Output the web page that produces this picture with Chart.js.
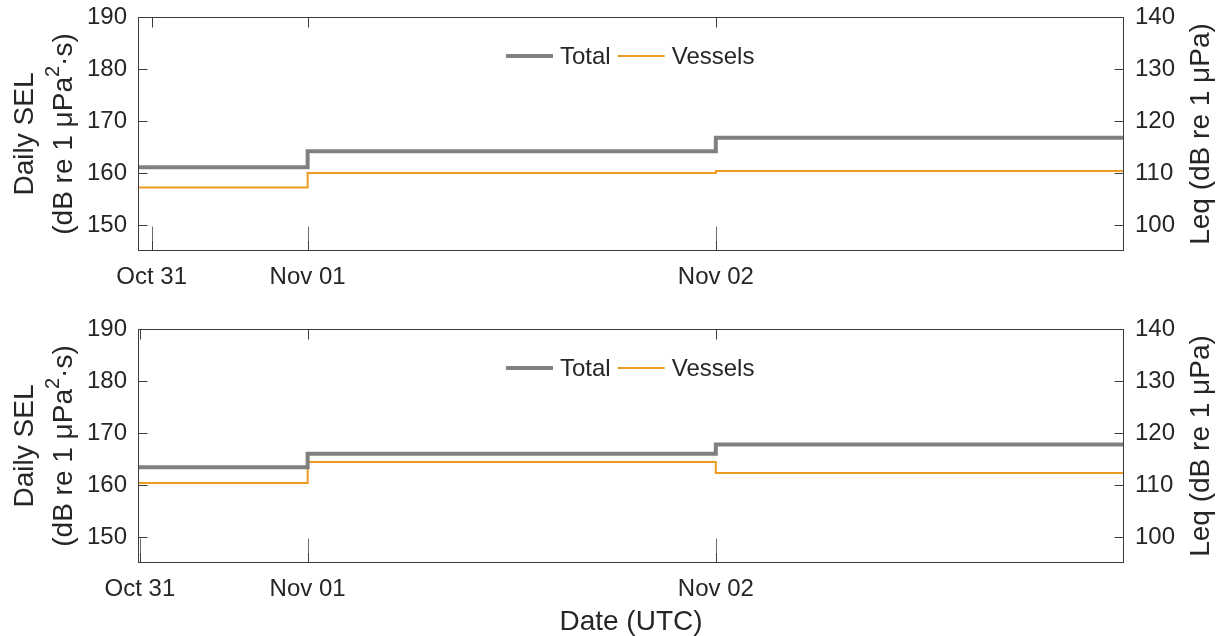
<!DOCTYPE html>
<html>
<head>
<meta charset="utf-8">
<script src="https://cdn.jsdelivr.net/npm/chart.js@4/dist/chart.umd.min.js"></script>
<style>
  html, body { margin: 0; padding: 0; background: #ffffff; }
  #wrap { position: relative; width: 1219px; height: 636px; overflow: hidden; }
  #wrap canvas { position: absolute; left: 0; }
</style>
</head>
<body>
<div id="wrap">
  <canvas id="panelTop" width="1219" height="300" style="top:0px"></canvas>
  <canvas id="panelBottom" width="1219" height="336" style="top:300px"></canvas>
</div>
<script>
// Daily sound exposure levels, one value per UTC day (days counted from Oct 31 00:00 UTC)
const dayLabels = ['Oct 31', 'Nov 01', 'Nov 02'];
const segmentStart = [0.5844, 1, 2];
const segmentEnd = 3;
const tickDaysTop = [0.618, 1, 2];
const tickDaysBottom = [0.589, 1, 2];

const totalTop = [161.1, 164.2, 166.8];
const vesselsTop = [157.2, 160.0, 160.4];
const totalBottom = [163.4, 166.0, 167.8];
const vesselsBottom = [160.4, 164.4, 162.3];

const selTicks = [150, 160, 170, 180, 190];
const leqTicks = [100, 110, 120, 130, 140];
const selRange = [145, 190];
const leqRange = [95, 140];

const FONT = "'Liberation Sans', Arial, Helvetica, sans-serif";
const TEXT = '#262626';
const AXIS = '#3c3c3c';
const GRAY = '#808080';
const ORANGE = '#EE9B22';

function toSteps(values) {
  const pts = values.map((v, i) => ({ x: segmentStart[i], y: v }));
  pts.push({ x: segmentEnd, y: values[values.length - 1] });
  return pts;
}

// Axis boxes are sized by hand, so label overhang must not push the plot area
function noOverhang(s) {
  s.paddingTop = 0; s.paddingBottom = 0; s.paddingLeft = 0; s.paddingRight = 0;
}

// Draws the axes box, inward tick marks, rotated axis titles and the legend
const framePlugin = {
  id: 'frame',
  afterDraw(chart, args, opts) {
    const ctx = chart.ctx;
    const { left, right, top, bottom } = chart.chartArea;
    const sx = chart.scales.x, sy = chart.scales.y, sy2 = chart.scales.y2;
    const L = Math.round(left) + 0.5, R = Math.round(right) - 0.5;
    const T = Math.round(top) + 0.5, B = Math.round(bottom) - 0.5;
    ctx.save();
    ctx.strokeStyle = AXIS;
    ctx.lineWidth = 1;
    ctx.strokeRect(L, T, R - L, B - T);

    ctx.beginPath();
    selTicks.forEach(v => {
      const y = Math.round(sy.getPixelForValue(v)) + 0.5;
      ctx.moveTo(L, y); ctx.lineTo(L + 9, y);
    });
    leqTicks.forEach(v => {
      const y = Math.round(sy2.getPixelForValue(v)) + 0.5;
      ctx.moveTo(R, y); ctx.lineTo(R - 9, y);
    });
    opts.tickDays.forEach(d => {
      const x = Math.round(sx.getPixelForValue(d)) + 0.5;
      ctx.moveTo(x, T); ctx.lineTo(x, T + 10);
      ctx.moveTo(x, B - 10); ctx.lineTo(x, B);
    });
    ctx.stroke();
    ctx.strokeStyle = '#6a6a6a';
    ctx.beginPath();
    opts.tickDays.forEach(d => {
      const x = Math.round(sx.getPixelForValue(d)) + 0.5;
      ctx.moveTo(x, B - 24); ctx.lineTo(x, B - 10);
    });
    ctx.stroke();

    // left axis title (two lines, with superscript)
    const cy = (top + bottom) / 2;
    ctx.fillStyle = TEXT;
    ctx.textBaseline = 'alphabetic';
    ctx.save();
    ctx.translate(33, cy);
    ctx.rotate(-Math.PI / 2);
    ctx.font = '28px ' + FONT;
    ctx.textAlign = 'center';
    ctx.fillText('Daily SEL', 0, 0);
    ctx.restore();

    ctx.save();
    ctx.translate(72, cy);
    ctx.rotate(-Math.PI / 2);
    const parts = [
      { t: '(dB re 1 \u03bcPa', f: '28px ' + FONT, dy: 0 },
      { t: '2', f: '20px ' + FONT, dy: -13 },
      { t: '\u00b7s)', f: '28px ' + FONT, dy: 0 }
    ];
    let total = 0;
    parts.forEach(p => { ctx.font = p.f; p.w = ctx.measureText(p.t).width; total += p.w; });
    let px = -total / 2;
    ctx.textAlign = 'left';
    parts.forEach(p => { ctx.font = p.f; ctx.fillText(p.t, px, p.dy); px += p.w; });
    ctx.restore();

    // right axis title
    ctx.save();
    ctx.translate(1209, cy);
    ctx.rotate(-Math.PI / 2);
    ctx.font = '28px ' + FONT;
    ctx.textAlign = 'center';
    ctx.fillText('Leq (dB re 1 \u03bcPa)', 0, 0);
    ctx.restore();

    // x axis title
    if (opts.xTitle) {
      ctx.font = '28px ' + FONT;
      ctx.textAlign = 'center';
      ctx.fillText(opts.xTitle, (left + right) / 2, opts.xTitleY);
    }

    // legend
    const ly = top + 39;
    let lx = 506;
    ctx.font = '24px ' + FONT;
    ctx.textAlign = 'left';
    ctx.textBaseline = 'middle';
    chart.data.datasets.forEach(ds => {
      ctx.strokeStyle = ds.borderColor;
      ctx.lineWidth = ds.borderWidth;
      ctx.beginPath();
      ctx.moveTo(lx, ly); ctx.lineTo(lx + 47, ly);
      ctx.stroke();
      lx += 54;
      ctx.fillStyle = TEXT;
      ctx.fillText(ds.label, lx, ly + 1);
      lx += ctx.measureText(ds.label).width + 7;
    });
    ctx.restore();
  }
};

function makePanel(id, total, vessels, tickDays, cfg) {
  const tickFont = { family: FONT, size: 24 };
  return new Chart(document.getElementById(id), {
    type: 'line',
    data: {
      datasets: [
        { label: 'Total', data: toSteps(total), borderColor: GRAY, borderWidth: 4,
          stepped: 'before', pointRadius: 0, fill: false, yAxisID: 'y' },
        { label: 'Vessels', data: toSteps(vessels), borderColor: ORANGE, borderWidth: 2,
          stepped: 'before', pointRadius: 0, fill: false, yAxisID: 'y' }
      ]
    },
    options: {
      responsive: false,
      devicePixelRatio: 1,
      animation: false,
      events: [],
      layout: { padding: { top: cfg.padTop, left: 0, right: 0, bottom: 0 } },
      plugins: {
        legend: { display: false },
        tooltip: { enabled: false },
        frame: { tickDays: tickDays, xTitle: cfg.xTitle, xTitleY: cfg.xTitleY }
      },
      scales: {
        x: {
          type: 'linear', bounds: 'data',
          min: segmentStart[0], max: segmentEnd,
          afterBuildTicks: s => { s.ticks = tickDays.map(v => ({ value: v })); },
          afterFit: s => { s.height = cfg.xHeight; noOverhang(s); },
          grid: { display: false, drawTicks: false },
          border: { display: false },
          ticks: {
            autoSkip: false, maxRotation: 0, minRotation: 0, padding: 12,
            font: tickFont, color: TEXT,
            callback: (v, i) => dayLabels[i]
          }
        },
        y: {
          type: 'linear', position: 'left', bounds: 'data',
          min: selRange[0], max: selRange[1],
          afterBuildTicks: s => { s.ticks = selTicks.map(v => ({ value: v })); },
          afterFit: s => { s.width = 138; noOverhang(s); },
          grid: { display: false, drawTicks: false },
          border: { display: false },
          ticks: { padding: 11, font: tickFont, color: TEXT }
        },
        y2: {
          type: 'linear', position: 'right', bounds: 'data',
          min: leqRange[0], max: leqRange[1],
          afterBuildTicks: s => { s.ticks = leqTicks.map(v => ({ value: v })); },
          afterFit: s => { s.width = 95; noOverhang(s); },
          grid: { display: false, drawTicks: false },
          border: { display: false },
          ticks: { padding: 11, font: tickFont, color: TEXT }
        }
      }
    },
    plugins: [framePlugin]
  });
}

makePanel('panelTop', totalTop, vesselsTop, tickDaysTop,
  { padTop: 17, xHeight: 49 });
makePanel('panelBottom', totalBottom, vesselsBottom, tickDaysBottom,
  { padTop: 29, xHeight: 73, xTitle: 'Date (UTC)', xTitleY: 330 });
</script>
</body>
</html>
